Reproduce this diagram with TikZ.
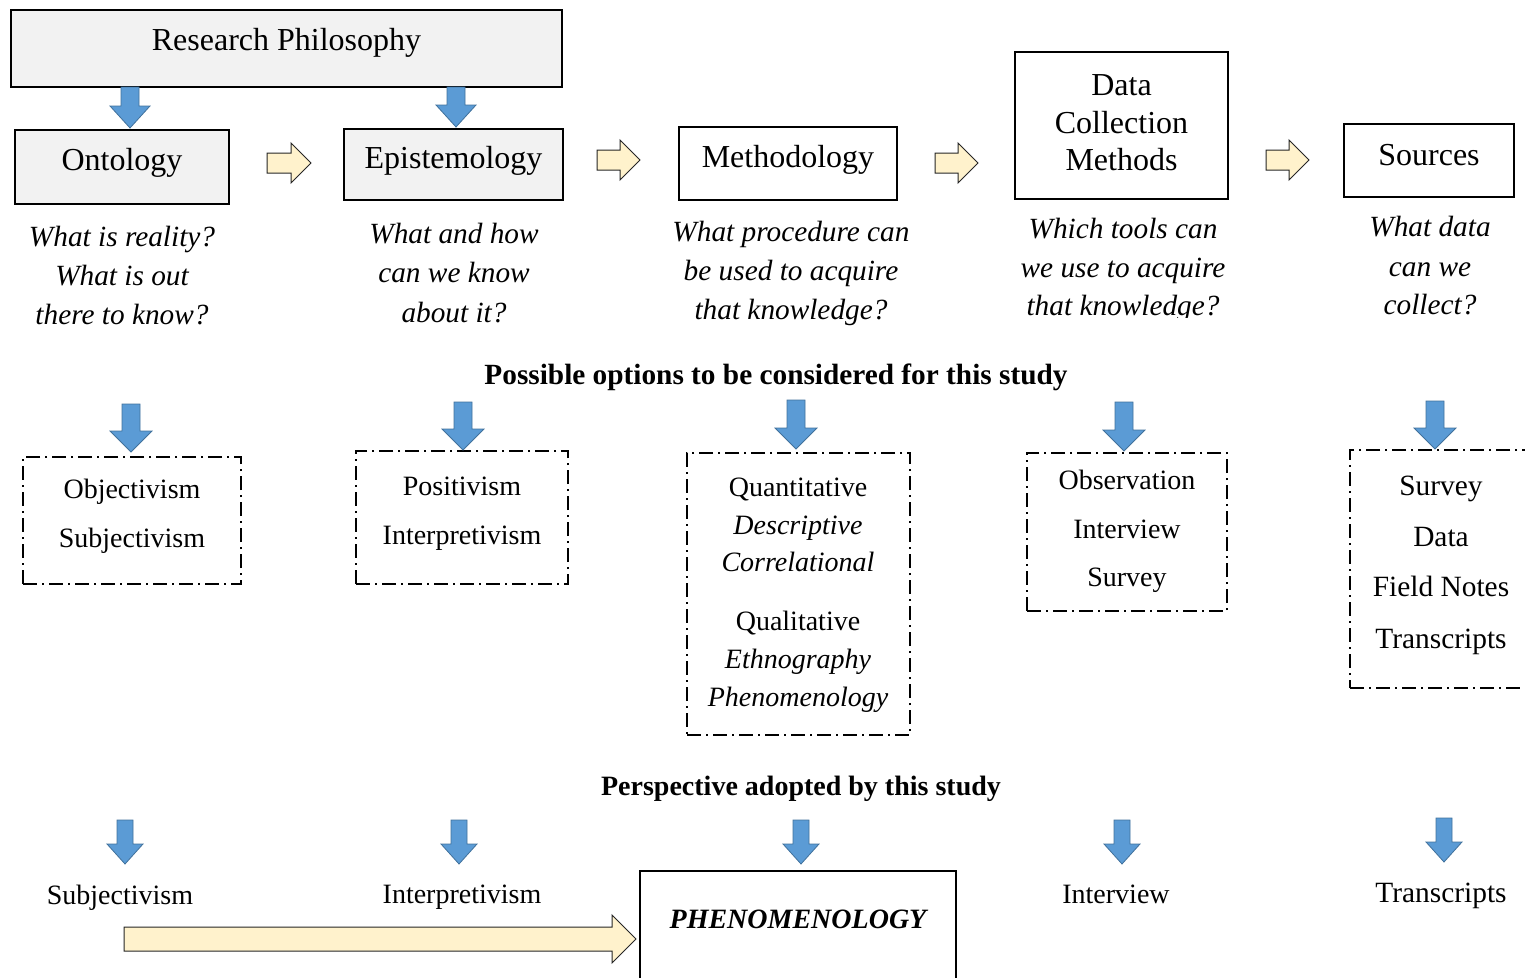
\documentclass[tikz,border=0pt]{standalone}
\usepackage{fontspec}
\setmainfont{Liberation Serif}
\definecolor{boxgray}{HTML}{F2F2F2}
\definecolor{arrowblue}{HTML}{5B9BD5}
\definecolor{arrowblueedge}{HTML}{41719C}
\definecolor{cream}{HTML}{FFF2CC}
% block arrow pointing down: x, y top, y tip, shaft half width, head half width, head length
\newcommand{\bluedown}[6]{%
  \filldraw[bluearr] ({#1-#4},#2) -- ({#1+#4},#2) -- ({#1+#4},{#3-#6}) -- ({#1+#5},{#3-#6})
    -- (#1,#3) -- ({#1-#5},{#3-#6}) -- ({#1-#4},{#3-#6}) -- cycle;}
% block arrow pointing right: x start, x tip, y centre, shaft half height, head half height, head length
\newcommand{\creamright}[6]{%
  \filldraw[creamarr] (#1,{#3-#4}) -- ({#2-#6},{#3-#4}) -- ({#2-#6},{#3-#5}) -- (#2,#3)
    -- ({#2-#6},{#3+#5}) -- ({#2-#6},{#3+#4}) -- (#1,{#3+#4}) -- cycle;}
\begin{document}
\begin{tikzpicture}[x=1pt,y=-1pt,
  every node/.style={inner sep=0pt,outer sep=0pt},
  stagebox/.style={draw=black,line width=1.5pt},
  shaded/.style={fill=boxgray},
  optbox/.style={draw=black,line width=1.6pt,dash pattern=on 14pt off 5pt on 2pt off 5pt},
  resultbox/.style={draw=black,line width=1.5pt},
  lbl/.style={font=\fontsize{32}{38}\selectfont,anchor=base},
  question/.style={font=\fontsize{29.3}{39}\selectfont\itshape,anchor=base},
  opt/.style={font=\fontsize{28}{34}\selectfont,anchor=base},
  optlarge/.style={font=\fontsize{29.4}{34}\selectfont,anchor=base},
  optit/.style={font=\fontsize{28}{34}\selectfont\itshape,anchor=base},
  heading/.style={font=\fontsize{28}{34}\selectfont\bfseries,anchor=base},
  result/.style={font=\fontsize{28}{34}\selectfont\bfseries\itshape,anchor=base},
  bluearr/.style={fill=arrowblue,draw=arrowblueedge,line width=0.8pt},
  creamarr/.style={fill=cream,draw=black!85,line width=1pt}]
\useasboundingbox (0,0) rectangle (1525,977);
\clip (0,0) rectangle (1525,977);

% ---- stages ----
\node[stagebox,shaded,minimum width=551,minimum height=77] (rp) at (286.5,48.5) {};
\node[stagebox,shaded,minimum width=214,minimum height=74] (ont) at (122,167) {};
\node[stagebox,shaded,minimum width=219,minimum height=71] (epi) at (453.5,164.5) {};
\node[stagebox,minimum width=218,minimum height=73] (met) at (788,163.5) {};
\node[stagebox,minimum width=213,minimum height=147] (dcm) at (1121.5,125.5) {};
\node[stagebox,minimum width=170,minimum height=73] (src) at (1429,160.5) {};

\node[lbl] (rpt) at (286.5,50) {Research Philosophy};
\node[lbl] (ontt) at (122,170) {Ontology};
\node[lbl] (epit) at (453.5,168) {Epistemology};
\node[lbl] (mett) at (788,167) {Methodology};
\node[lbl] (dcm1) at (1121.5,95) {Data};
\node[lbl] (dcm2) at (1121.5,133) {Collection};
\node[lbl] (dcm3) at (1121.5,170) {Methods};
\node[lbl] (srct) at (1429,165) {Sources};

\bluedown{130}{87}{128}{9}{20}{22}
\bluedown{456}{87}{127}{9}{20}{22}

\creamright{267}{311}{163}{10}{20}{20}
\creamright{597}{640}{160}{10}{20}{20}
\creamright{935}{978}{163}{10}{20}{20}
\creamright{1266}{1309}{160}{10}{20}{20}

% ---- guiding questions ----
\node[question] (q11) at (122,246.5) {What is reality?};
\node[question] (q12) at (122,285.5) {What is out};
\node[question] (q13) at (122,324.5) {there to know?};
\node[question] (q21) at (454,243.5) {What and how};
\node[question] (q22) at (454,282.5) {can we know};
\node[question] (q23) at (454,322.5) {about it?};
\node[question] (q31) at (791,241.5) {What procedure can};
\node[question] (q32) at (791,280.5) {be used to acquire};
\node[question] (q33) at (791,319.5) {that knowledge?};
\begin{scope}
  \clip (1000,200) rectangle (1250,317);
  \node[question] (q41) at (1123,238.5) {Which tools can};
  \node[question] (q42) at (1123,277.5) {we use to acquire};
  \node[question] (q43) at (1123,315.5) {that knowledge?};
\end{scope}
\node[question] (q51) at (1430,236.5) {What data};
\node[question] (q52) at (1430,276.5) {can we};
\node[question] (q53) at (1430,314.5) {collect?};

% ---- options ----
\node[heading,font=\fontsize{29.3}{34}\selectfont\bfseries] (h1) at (776,384) {Possible options to be considered for this study};

\node[optbox,minimum width=218,minimum height=127] (o1) at (132,520.5) {};
\node[optbox,minimum width=212,minimum height=133] (o2) at (462,517.5) {};
\node[optbox,minimum width=223,minimum height=282] (o3) at (798.5,594) {};
\node[optbox,minimum width=200,minimum height=158] (o4) at (1127,532) {};
\node[optbox,minimum width=195,minimum height=238] (o5) at (1447.5,569) {};

\bluedown{131}{404}{452}{9}{21}{21}
\bluedown{463}{402}{450}{9}{21}{21}
\bluedown{796}{400}{449}{9}{21}{21}
\bluedown{1124}{402}{451}{9}{21}{21}
\bluedown{1435}{401}{449}{9}{21}{21}

\node[opt] (o1a) at (132,498.5) {Objectivism};
\node[opt] (o1b) at (132,547.5) {Subjectivism};
\node[opt] (o2a) at (462,495.5) {Positivism};
\node[opt] (o2b) at (462,544.5) {Interpretivism};
\node[opt] (o3a) at (798,496.5) {Quantitative};
\node[optit] (o3b) at (798,534.5) {Descriptive};
\node[optit] (o3c) at (798,571.5) {Correlational};
\node[opt] (o3d) at (798,630.5) {Qualitative};
\node[optit] (o3e) at (798,668.5) {Ethnography};
\node[optit] (o3f) at (798,706.5) {Phenomenology};
\node[opt] (o4a) at (1127,489.5) {Observation};
\node[opt] (o4b) at (1127,538.5) {Interview};
\node[opt] (o4c) at (1127,586.5) {Survey};
\node[optlarge] (o5a) at (1441,495.5) {Survey};
\node[optlarge] (o5b) at (1441,546.5) {Data};
\node[optlarge] (o5c) at (1441,596.5) {Field Notes};
\node[optlarge] (o5d) at (1441,648.5) {Transcripts};

% ---- adopted perspective ----
\node[heading] (h2) at (801,795) {Perspective adopted by this study};

\bluedown{125}{820}{864}{8}{18}{20}
\bluedown{459}{820}{864}{8}{18}{20}
\bluedown{801}{820}{864}{8}{18}{20}
\bluedown{1122}{820}{864}{8}{18}{20}
\bluedown{1444}{818}{862}{8}{18}{20}

\node[opt] (p1) at (120,904.5) {Subjectivism};
\node[opt] (p2) at (462,903.5) {Interpretivism};
\node[opt] (p4) at (1116,903.5) {Interview};
\node[optlarge] (p5) at (1441,902.5) {Transcripts};

\node[resultbox,minimum width=316,minimum height=129] (phen) at (798,935.5) {};
\node[result] (phent) at (798,928.5) {PHENOMENOLOGY};

\creamright{124}{636}{939}{12}{24}{24}
\end{tikzpicture}
\end{document}
